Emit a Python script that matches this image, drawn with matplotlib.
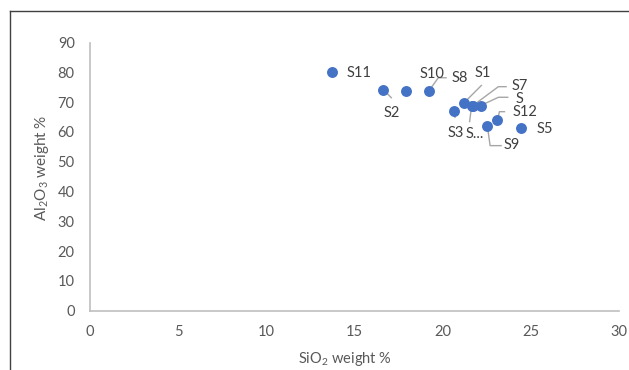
import matplotlib
matplotlib.use("Agg")
import matplotlib.pyplot as plt
from matplotlib.lines import Line2D

plt.rcParams['font.family'] = ['Lato', 'DejaVu Sans']
plt.rcParams['mathtext.fontset'] = 'custom'
plt.rcParams['mathtext.rm'] = 'Lato'
plt.rcParams['mathtext.it'] = 'Lato:italic'

# Data
labels = ['S11', 'S2', 'S10', 'S8', 'S3', 'S1', 'S7', 'S', 'S...', 'S12', 'S9', 'S5']
sio2 = [13.75, 16.65, 17.93, 19.22, 20.66, 21.23, 21.72, 22.21, 21.65, 23.12, 22.55, 24.48]
al2o3 = [80.0, 74.1, 73.7, 73.7, 67.0, 69.8, 68.8, 68.8, 68.6, 64.0, 61.9, 61.4]
x_ticks = [0, 5, 10, 15, 20, 25, 30]
y_ticks = [0, 10, 20, 30, 40, 50, 60, 70, 80, 90]

# Layout: label offsets (pixels, y down) and leader vertices (pixels, y down)
label_off = {
    'S11': (27, 1), 'S2': (8.4, 23.3), 'S10': (25.7, -16.7), 'S8': (30.6, -12.7),
    'S3': (2, 22.3), 'S1': (18.3, -29.4), 'S7': (46.6, -19.5), 'S': (38, -6.5),
    'S...': (3.3, 27.6), 'S12': (27.4, -7.7), 'S9': (24.4, 18.7), 'S5': (23.7, 1.3),
}
leaders = {
    'S2': [(0, 0), (8.4, 8.3)],
    'S8': [(0, 0), (9.6, -13.3), (18, -13.3)],
    'S3': [(0, 0), (1, 7)],
    'S1': [(0, 0), (17.7, -17.7)],
    'S7': [(0, 0), (25.6, -19), (34, -19)],
    'S': [(-1, 0), (17, -8.4), (27, -8.4)],
    'S...': [(0, 0), (-2, 16)],
    'S12': [(0, 0), (2, -8.3), (7.7, -8.3)],
    'S9': [(0, 0), (2.7, 19.4), (14.4, 19.4)],
}

W, H = 629, 370
fig = plt.figure(figsize=(W / 100, H / 100), dpi=100)
ax = fig.add_axes([90 / W, (H - 310.7) / H, (618.7 - 90) / W, (310.7 - 42.5) / H])
ax.set_xlim(0, 30)
ax.set_ylim(0, 90)

grey_axis = '#BFBFBF'
for s in ['top', 'right']:
    ax.spines[s].set_visible(False)
for s in ['left', 'bottom']:
    ax.spines[s].set_color(grey_axis)
    ax.spines[s].set_linewidth(1.2)

ax.set_xticks(x_ticks)
ax.set_yticks(y_ticks)
ax.tick_params(axis='both', length=0, labelsize=10.5, labelcolor='#595959')
ax.tick_params(axis='y', pad=11)
ax.tick_params(axis='x', pad=10)

ax.scatter(sio2, al2o3, s=62, color='#4472C4', zorder=3, linewidths=0)

fig.canvas.draw()
to_disp = ax.transData.transform
to_data = ax.transData.inverted().transform
for name, x, y in zip(labels, sio2, al2o3):
    px, py = to_disp((x, y))
    if name in leaders:
        pts = [to_data((px + dx, py - dy)) for dx, dy in leaders[name]]
        ax.plot([p[0] for p in pts], [p[1] for p in pts], color='#A6A6A6',
                lw=1.0, zorder=2, solid_capstyle='butt')
    dx, dy = label_off[name]
    tx, ty = to_data((px + dx, py - dy))
    ax.text(tx, ty, name, ha='center', va='center', fontsize=10.5,
            color='#404040', zorder=4)

fig.text(345 / W, 1 - 359 / H, r'SiO$_\mathregular{2}$ weight %', ha='center',
         va='center', fontsize=10.5, color='#595959')
fig.text(42 / W, 1 - 168 / H, r'Al$_\mathregular{2}$O$_\mathregular{3}$ weight %',
         ha='center', va='center', rotation=90, fontsize=11, color='#595959')

# outer border (top and left)
fig.add_artist(Line2D([10 / W, 1], [1 - 11 / H, 1 - 11 / H], transform=fig.transFigure,
                      color='#404040', lw=1.0))
fig.add_artist(Line2D([10 / W, 10 / W], [0, 1 - 11 / H], transform=fig.transFigure,
                      color='#404040', lw=1.0))

fig.savefig('out.png', dpi=100)
